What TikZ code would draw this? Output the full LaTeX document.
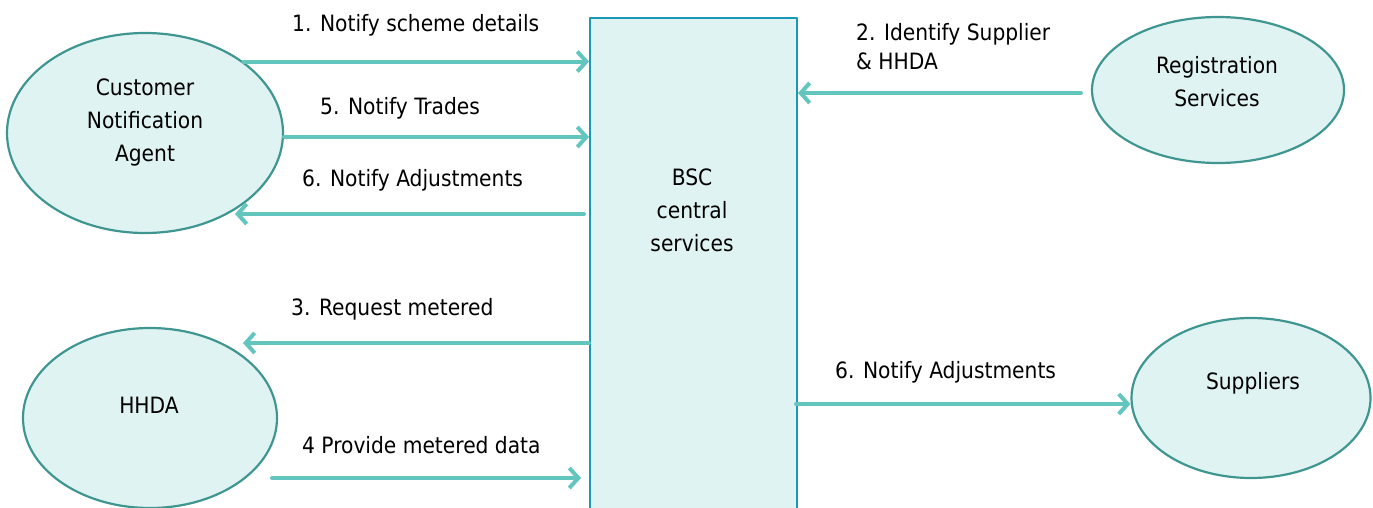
\documentclass[tikz,border=0pt]{standalone}
\usepackage{fontspec}
\setmainfont{DejaVu Sans Condensed}
\usetikzlibrary{arrows.meta}
\usetikzlibrary{shapes.geometric}
\definecolor{paleteal}{HTML}{DFF3F2}
\definecolor{edgeteal}{HTML}{3F9691}
\definecolor{boxblue}{HTML}{1A98B4}
\definecolor{flowteal}{HTML}{63C6BE}
\tikzset{
  party/.style={ellipse, draw=edgeteal, line width=2.2pt, fill=paleteal, inner sep=0pt},
  flow/.style={draw=flowteal, line width=4pt, -{Straight Barb[length=9pt,width=20pt,line width=4pt]}},
  lbl/.style={font=\fontsize{22.5}{27}\selectfont, inner sep=0pt},
  txt/.style={font=\fontsize{22.5}{33}\selectfont, align=center, inner sep=0pt}
}

\begin{document}
\begin{tikzpicture}[line cap=round,line join=round,x=1pt,y=-1pt]
\clip (0,0) rectangle (1373,508);
% central box
\node [draw=boxblue, line width=2pt, fill=paleteal, rectangle, minimum width=207, minimum height=540, anchor=north west, inner sep=0pt] (bsc) at (589,17) {};
\node [txt] (bsctext) at (692,210) {BSC\\central\\services};
% parties
\node [party, minimum width=276, minimum height=200] (cna) at (145,133) {};
\node [txt] (cnatext) at (145,122) {Customer\\Notification\\Agent};
\node [party, minimum width=252, minimum height=146] (reg) at (1218,90) {};
\node [txt] (regtext) at (1217,82) {Registration\\Services};
\node [party, minimum width=254, minimum height=180] (hhda) at (150,418) {};
\node [txt] (hhdatext) at (149,405) {HHDA};
\node [party, minimum width=239, minimum height=160] (sup) at (1251,398) {};
\node [txt] (suptext) at (1253,383) {Suppliers};
% flows
\coordinate (regout) at (1081,93);
\coordinate (adjin) at (235,214);
\coordinate (reqin) at (243,343);
\coordinate (dataout) at (272,478);
\coordinate (adjout) at (796,404);
\draw [flow] (cna.36.9) -- (cna.36.9 -| bsc.west);
\draw [flow] (cna.east |- 0,137) -- (bsc.west |- 0,137);
\draw [flow, shorten <=5pt] (adjin -| bsc.west) -- (adjin);
\draw [flow] (regout) -- (regout -| bsc.east);
\draw [flow] (reqin -| bsc.west) -- (reqin);
\draw [flow, shorten >=8pt] (dataout) -- (dataout -| bsc.west);
\draw [flow] (adjout) -- (adjout -| sup.west);
% labels
\node [lbl, anchor=west] (l1) at (292,25) {1. Notify scheme details};
\node [lbl, anchor=west] (l5) at (320,108) {5. Notify Trades};
\node [lbl, anchor=west] (l6a) at (302,180) {6. Notify Adjustments};
\node [lbl, anchor=west, align=left] (l2) at (856,47) {2. Identify Supplier\\[2pt]\& HHDA};
\node [lbl, anchor=west] (l3) at (291,309) {3. Request metered};
\node [lbl, anchor=west] (l4) at (302,445) {4 Provide metered data};
\node [lbl, anchor=west] (l6b) at (835,372) {6. Notify Adjustments};
\end{tikzpicture}
\end{document}
